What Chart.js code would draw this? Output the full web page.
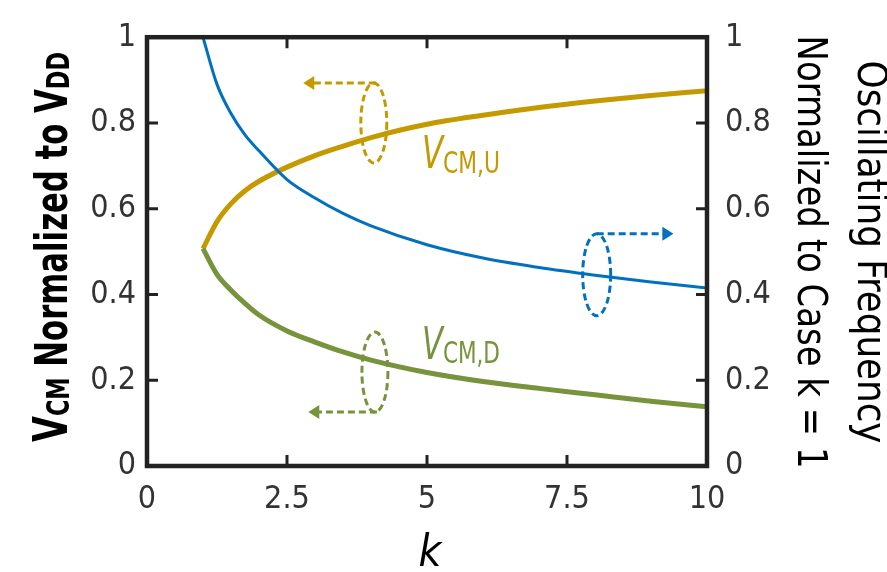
<!DOCTYPE html>
<html>
<head>
<meta charset="utf-8">
<script src="https://cdn.jsdelivr.net/npm/chart.js@4"></script>
<style>
  html, body { margin: 0; padding: 0; background: #fff; }
  #wrap { width: 887px; height: 572px; }
</style>
</head>
<body>
<div id="wrap"><canvas id="chart" width="887" height="572"></canvas></div>
<script>
// datos
const kValues  = [1, 1.25, 1.5, 1.75, 2, 2.5, 3, 3.5, 4, 5, 6, 7, 8, 9, 10];
const vcmUp    = [0.507, 0.57, 0.612, 0.642, 0.664, 0.697, 0.724, 0.746, 0.766, 0.797, 0.818, 0.836, 0.851, 0.864, 0.875];
const vcmDown  = [0.507, 0.447, 0.41, 0.379, 0.352, 0.315, 0.289, 0.266, 0.247, 0.218, 0.197, 0.181, 0.166, 0.151, 0.138];
const oscFreq  = [1.0, 0.89, 0.822, 0.772, 0.735, 0.668, 0.625, 0.589, 0.56, 0.516, 0.485, 0.463, 0.445, 0.429, 0.415];
const xTicks = [0, 2.5, 5, 7.5, 10];
const yTicks = [0, 0.2, 0.4, 0.6, 0.8, 1];

const GOLD = '#C49A00';
const BLUE = '#0070C0';
const GREEN = '#77933C';
const FONT = "'DejaVu Sans Condensed', 'Liberation Sans Narrow', Roboto, sans-serif";

function toPoints(ys) {
  return kValues.map((k, i) => ({ x: k, y: ys[i] }));
}

// dibuja texto con partes (subindices, tamaños distintos); fitWidth comprime en horizontal
function drawRich(ctx, segs, x, y, align, fitWidth) {
  let total = 0;
  segs.forEach(s => { ctx.font = s.font; s.w = ctx.measureText(s.text).width; total += s.w; });
  const k = fitWidth ? fitWidth / total : 1;
  ctx.save();
  ctx.translate(x, y);
  ctx.scale(k, 1);
  let cx = align === 'center' ? -total / 2 : 0;
  ctx.textAlign = 'left';
  ctx.textBaseline = 'alphabetic';
  segs.forEach(s => {
    ctx.font = s.font;
    ctx.fillStyle = s.color;
    ctx.fillText(s.text, cx, s.dy || 0);
    cx += s.w;
  });
  ctx.restore();
}

function dashedEllipse(ctx, cx, cy, rx, ry, color) {
  ctx.save();
  ctx.strokeStyle = color;
  ctx.lineWidth = 3;
  ctx.setLineDash([7, 4]);
  ctx.beginPath();
  ctx.ellipse(cx, cy, rx, ry, 0, 0, Math.PI * 2);
  ctx.stroke();
  ctx.restore();
}

function dashedArrow(ctx, x1, y, x2, color) {
  const dir = x2 > x1 ? 1 : -1;
  ctx.save();
  ctx.strokeStyle = color;
  ctx.fillStyle = color;
  ctx.lineWidth = 3;
  ctx.setLineDash([7, 4]);
  ctx.beginPath();
  ctx.moveTo(x1, y);
  ctx.lineTo(x2 - dir * 10, y);
  ctx.stroke();
  ctx.setLineDash([]);
  ctx.beginPath();
  ctx.moveTo(x2, y);
  ctx.lineTo(x2 - dir * 11, y - 7);
  ctx.lineTo(x2 - dir * 11, y + 7);
  ctx.closePath();
  ctx.fill();
  ctx.restore();
}

// anotaciones: ovalos con flechas y etiquetas
const annotations = {
  id: 'annotations',
  afterDatasetsDraw(chart) {
    const ctx = chart.ctx;
    const sx = chart.scales.x, sy = chart.scales.y;
    const px = v => sx.getPixelForValue(v);
    const py = v => sy.getPixelForValue(v);

    // V_CM,U
    let cx = px(4.05), cy = py(0.80);
    dashedEllipse(ctx, cx, cy, 13, 40, GOLD);
    dashedArrow(ctx, cx + 2, cy - 40, px(2.79), GOLD);
    // V_CM,D
    cx = px(4.07); cy = py(0.219);
    dashedEllipse(ctx, cx, cy, 13, 40, GREEN);
    dashedArrow(ctx, cx + 2, cy + 40, px(2.88), GREEN);
    // frecuencia
    cx = px(8.03); cy = py(0.446);
    dashedEllipse(ctx, cx, cy, 14, 41, BLUE);
    dashedArrow(ctx, cx, cy - 41, px(9.4), BLUE);

    drawRich(ctx, [
      { text: 'V', font: 'italic 44px ' + FONT, color: GOLD },
      { text: 'CM,U', font: '31px ' + FONT, color: GOLD, dy: 5 }
    ], px(4.91), py(0.695), 'left', 78);
    drawRich(ctx, [
      { text: 'V', font: 'italic 44px ' + FONT, color: GREEN },
      { text: 'CM,D', font: '31px ' + FONT, color: GREEN, dy: 4 }
    ], px(4.91), py(0.25), 'left', 78);

    // marco y ticks hacia adentro
    const a = chart.chartArea;
    ctx.save();
    ctx.strokeStyle = '#222';
    ctx.lineWidth = 3;
    ctx.beginPath();
    xTicks.slice(1, -1).forEach(t => {
      const x = px(t);
      ctx.moveTo(x, a.bottom); ctx.lineTo(x, a.bottom - 11);
      ctx.moveTo(x, a.top); ctx.lineTo(x, a.top + 11);
    });
    yTicks.slice(1, -1).forEach(t => {
      const y = py(t);
      ctx.moveTo(a.left, y); ctx.lineTo(a.left + 11, y);
      ctx.moveTo(a.right, y); ctx.lineTo(a.right - 11, y);
    });
    ctx.stroke();
    ctx.lineWidth = 4.5;
    ctx.strokeRect(a.left, a.top, a.right - a.left, a.bottom - a.top);
    ctx.restore();
  },
  afterDraw(chart) {
    const ctx = chart.ctx;
    const a = chart.chartArea;
    // titulo eje izquierdo
    ctx.save();
    ctx.translate(67, 247);
    ctx.rotate(-Math.PI / 2);
    drawRich(ctx, [
      { text: 'V', font: 'bold 48px ' + FONT, color: '#000' },
      { text: 'CM', font: 'bold 32px ' + FONT, color: '#000', dy: 2 },
      { text: ' Normalized to V', font: 'bold 44px ' + FONT, color: '#000' },
      { text: 'DD', font: 'bold 32px ' + FONT, color: '#000', dy: 2 }
    ], 0, 0, 'center', 390);
    ctx.restore();

    // titulo eje derecho (dos lineas)
    ctx.save();
    ctx.translate(858, 252);
    ctx.rotate(Math.PI / 2);
    drawRich(ctx, [{ text: 'Oscillating Frequency', font: '40px ' + FONT, color: '#000' }], 0, 0, 'center', 383);
    ctx.restore();
    ctx.save();
    ctx.translate(798, 252);
    ctx.rotate(Math.PI / 2);
    drawRich(ctx, [{ text: 'Normalized to Case k = 1', font: '40px ' + FONT, color: '#000' }], 0, 0, 'center', 433);
    ctx.restore();

    // titulo eje x
    drawRich(ctx, [{ text: 'k', font: 'italic 44px ' + FONT, color: '#000' }], (a.left + a.right) / 2 + 3, 566, 'center');
  }
};

const tickFont = { family: FONT, size: 32 };

new Chart(document.getElementById('chart'), {
  type: 'line',
  data: {
    datasets: [
      {
        label: 'Oscillating Frequency',
        data: toPoints(oscFreq),
        borderColor: BLUE,
        borderWidth: 3,
        pointRadius: 0,
        cubicInterpolationMode: 'monotone',
        yAxisID: 'y2'
      },
      {
        label: 'VCM,D',
        data: toPoints(vcmDown),
        borderColor: GREEN,
        borderWidth: 5,
        pointRadius: 0,
        cubicInterpolationMode: 'monotone',
        yAxisID: 'y'
      },
      {
        label: 'VCM,U',
        data: toPoints(vcmUp),
        borderColor: GOLD,
        borderWidth: 5,
        pointRadius: 0,
        cubicInterpolationMode: 'monotone',
        yAxisID: 'y'
      }
    ]
  },
  options: {
    responsive: false,
    animation: false,
    layout: { padding: { top: 23, left: 0, right: 0, bottom: 0 } },
    plugins: { legend: { display: false }, tooltip: { enabled: false } },
    scales: {
      x: {
        type: 'linear',
        min: 0,
        max: 10,
        afterBuildTicks: s => { s.ticks = xTicks.map(v => ({ value: v })); },
        afterFit: s => { s.height = 106; },
        grid: { display: false, drawTicks: false },
        border: { display: false },
        ticks: { font: tickFont, color: '#333', padding: 14, maxRotation: 0, callback: v => String(v) }
      },
      y: {
        type: 'linear',
        position: 'left',
        min: 0,
        max: 1,
        afterBuildTicks: s => { s.ticks = yTicks.map(v => ({ value: v })); },
        afterFit: s => { s.width = 147; },
        grid: { display: false, drawTicks: false },
        border: { display: false },
        ticks: { font: tickFont, color: '#333', padding: 11, callback: v => String(v) }
      },
      y2: {
        type: 'linear',
        position: 'right',
        min: 0,
        max: 1,
        afterBuildTicks: s => { s.ticks = yTicks.map(v => ({ value: v })); },
        afterFit: s => { s.width = 180; },
        grid: { display: false, drawTicks: false },
        border: { display: false },
        ticks: { font: tickFont, color: '#333', padding: 18, callback: v => String(v) }
      }
    }
  },
  plugins: [annotations]
});
</script>
</body>
</html>
